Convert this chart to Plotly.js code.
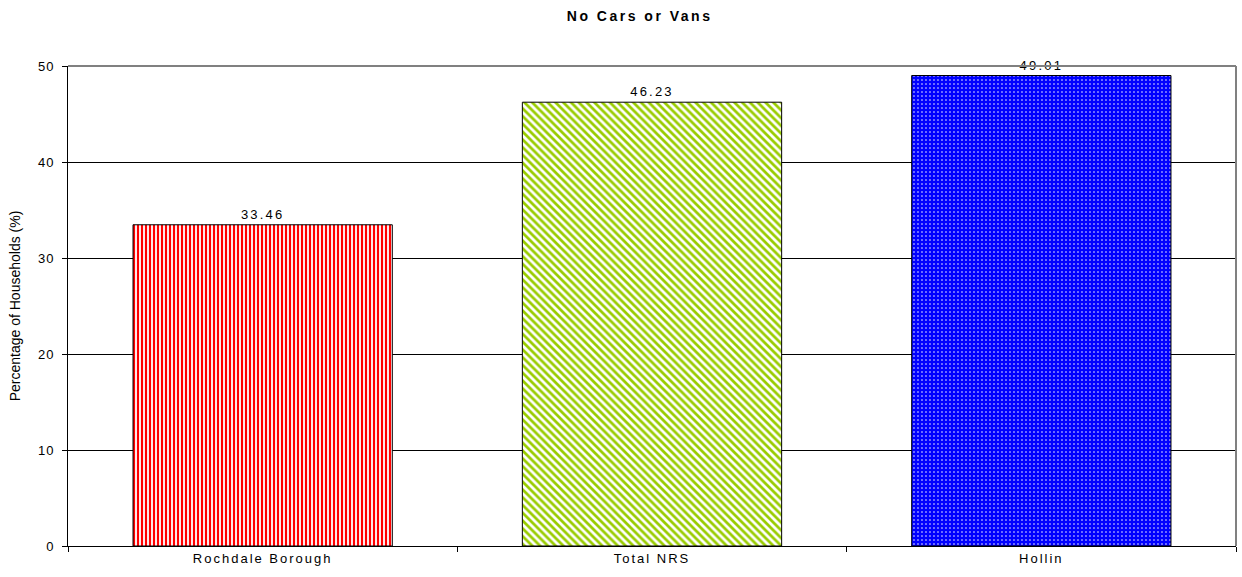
<!DOCTYPE html>
<html>
<head>
<meta charset="utf-8">
<script src="https://cdn.plot.ly/plotly-3.0.1.min.js"></script>
<style>
html, body { margin:0; padding:0; background:#fff; }
#chart { width:1242px; height:577px; }
.gtitle { letter-spacing: 2.5px; }
.xtick text { letter-spacing: 2px; }
.ytick text { letter-spacing: 1px; }
.bartext { letter-spacing: 2.2px; }
</style>
</head>
<body>
<div id="chart"></div>
<script>
const categories = ["Rochdale Borough", "Total NRS", "Hollin"];
const values = [33.46, 46.23, 49.01];
const valueLabels = ["33.46", "46.23", "49.01"];
const chartTitle = "No Cars or Vans";
const yTitle = "Percentage of Households (%)";
const yTicks = [0, 10, 20, 30, 40, 50];

const patternShapes = ["|", "\\", "."];
const patternBg = ["#ffffff", "#ffffff", "#0000ff"];
const patternFg = ["#ff0000", "#99cc00", "#ffffff"];
const patternSize = [4, 5.5, 4];
const patternSolidity = [0.55, 0.5, 0.12];

const fonts = "Liberation Sans, Arial, sans-serif";

const traces = categories.map((c, i) => ({
  type: "bar",
  x: [c],
  y: [values[i]],
  text: [valueLabels[i]],
  textposition: "outside",
  cliponaxis: false,
  textfont: {family: fonts, size: 13, color: "#000"},
  width: 0.666,
  hoverinfo: "none",
  marker: {
    color: patternBg[i],
    line: {color: "#000", width: 1},
    pattern: {
      shape: patternShapes[i],
      fillmode: "replace",
      bgcolor: patternBg[i],
      fgcolor: patternFg[i],
      size: patternSize[i],
      solidity: patternSolidity[i]
    }
  }
}));

const layout = {
  width: 1242,
  height: 577,
  margin: {l: 68, r: 6, t: 66, b: 31},
  paper_bgcolor: "#fff",
  plot_bgcolor: "#fff",
  showlegend: false,
  barmode: "overlay",
  title: {
    text: "<b>" + chartTitle + "</b>",
    font: {family: fonts, size: 14, color: "#000"},
    x: 0.515, xanchor: "center",
    y: 0.972, yanchor: "middle"
  },
  xaxis: {
    type: "category",
    categoryorder: "array",
    categoryarray: categories,
    showgrid: false,
    tickson: "boundaries",
    ticks: "outside",
    ticklen: 5,
    tickcolor: "#000",
    showline: true,
    linecolor: "#000",
    linewidth: 1,
    tickfont: {family: fonts, size: 13, color: "#000"},
    fixedrange: true
  },
  yaxis: {
    range: [0, 50],
    tickvals: yTicks,
    ticktext: yTicks.map(String),
    ticks: "outside",
    ticklen: 5,
    tickcolor: "#000",
    ticklabelstandoff: 5,
    showline: true,
    linecolor: "#000",
    linewidth: 1,
    showgrid: true,
    gridcolor: "#000",
    gridwidth: 1,
    zeroline: false,
    tickfont: {family: fonts, size: 13, color: "#000"},
    title: {text: yTitle, font: {family: fonts, size: 14, color: "#000"}, standoff: 14},
    fixedrange: true
  },
  shapes: [
    {type: "line", xref: "paper", yref: "paper", x0: 0, x1: 1, y0: 1, y1: 1, line: {color: "#808080", width: 2}},
    {type: "line", xref: "paper", yref: "paper", x0: 1, x1: 1, y0: 0, y1: 1, line: {color: "#808080", width: 2}}
  ]
};

Plotly.newPlot("chart", traces, layout, {displayModeBar: false, staticPlot: true});
</script>
</body>
</html>
